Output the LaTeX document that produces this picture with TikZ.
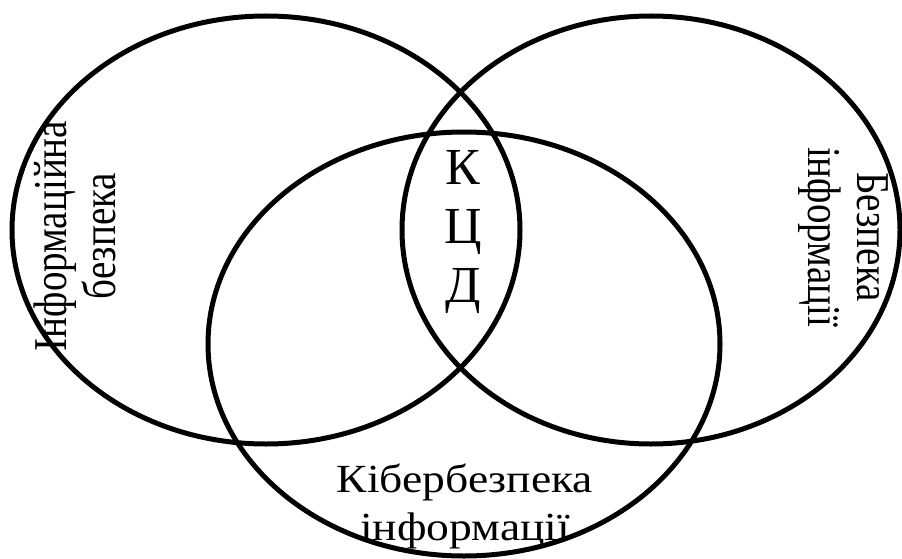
\documentclass[tikz,border=0pt]{standalone}
\usepackage{fontspec}
\setmainfont{Liberation Serif}
\usepackage{graphicx}
\usepackage{tikz}

% squeezed two-line label: #1 x-factor, #2 y-factor, #3 baselineskip, #4 lines
\newcommand{\sqlabel}[4]{\fontsize{42}{#3}\selectfont\scalebox{#1}[#2]{\begin{tabular}{@{}c@{}}#4\end{tabular}}}

\begin{document}
\begin{tikzpicture}[x=1pt,y=-1pt,line width=5pt,
    label text/.style={inner sep=0pt}]
            \useasboundingbox (0,0) rectangle (902,559);
            \draw (266,230) ellipse [x radius=254, y radius=214];
            \draw (651,230) ellipse [x radius=249, y radius=214];
            \draw (464,344) ellipse [x radius=256, y radius=212];
            \node[label text, rotate=90] (infsec) at (81,236) {\sqlabel{0.93}{1.12}{44}{Інформаційна\\безпека}};
            \node[label text, rotate=-90] (secinf) at (843,237) {\sqlabel{0.93}{1.12}{44}{Безпека\\інформації}};
            \node[label text] (cyber) at (465,507) {\sqlabel{1.085}{0.95}{51}{Кібербезпека\\інформації}};
            \node[label text, align=center, font=\fontsize{52}{59}\selectfont] (kcd) at (463,232) {К\\Ц\\Д};
        \end{tikzpicture}
\end{document}
